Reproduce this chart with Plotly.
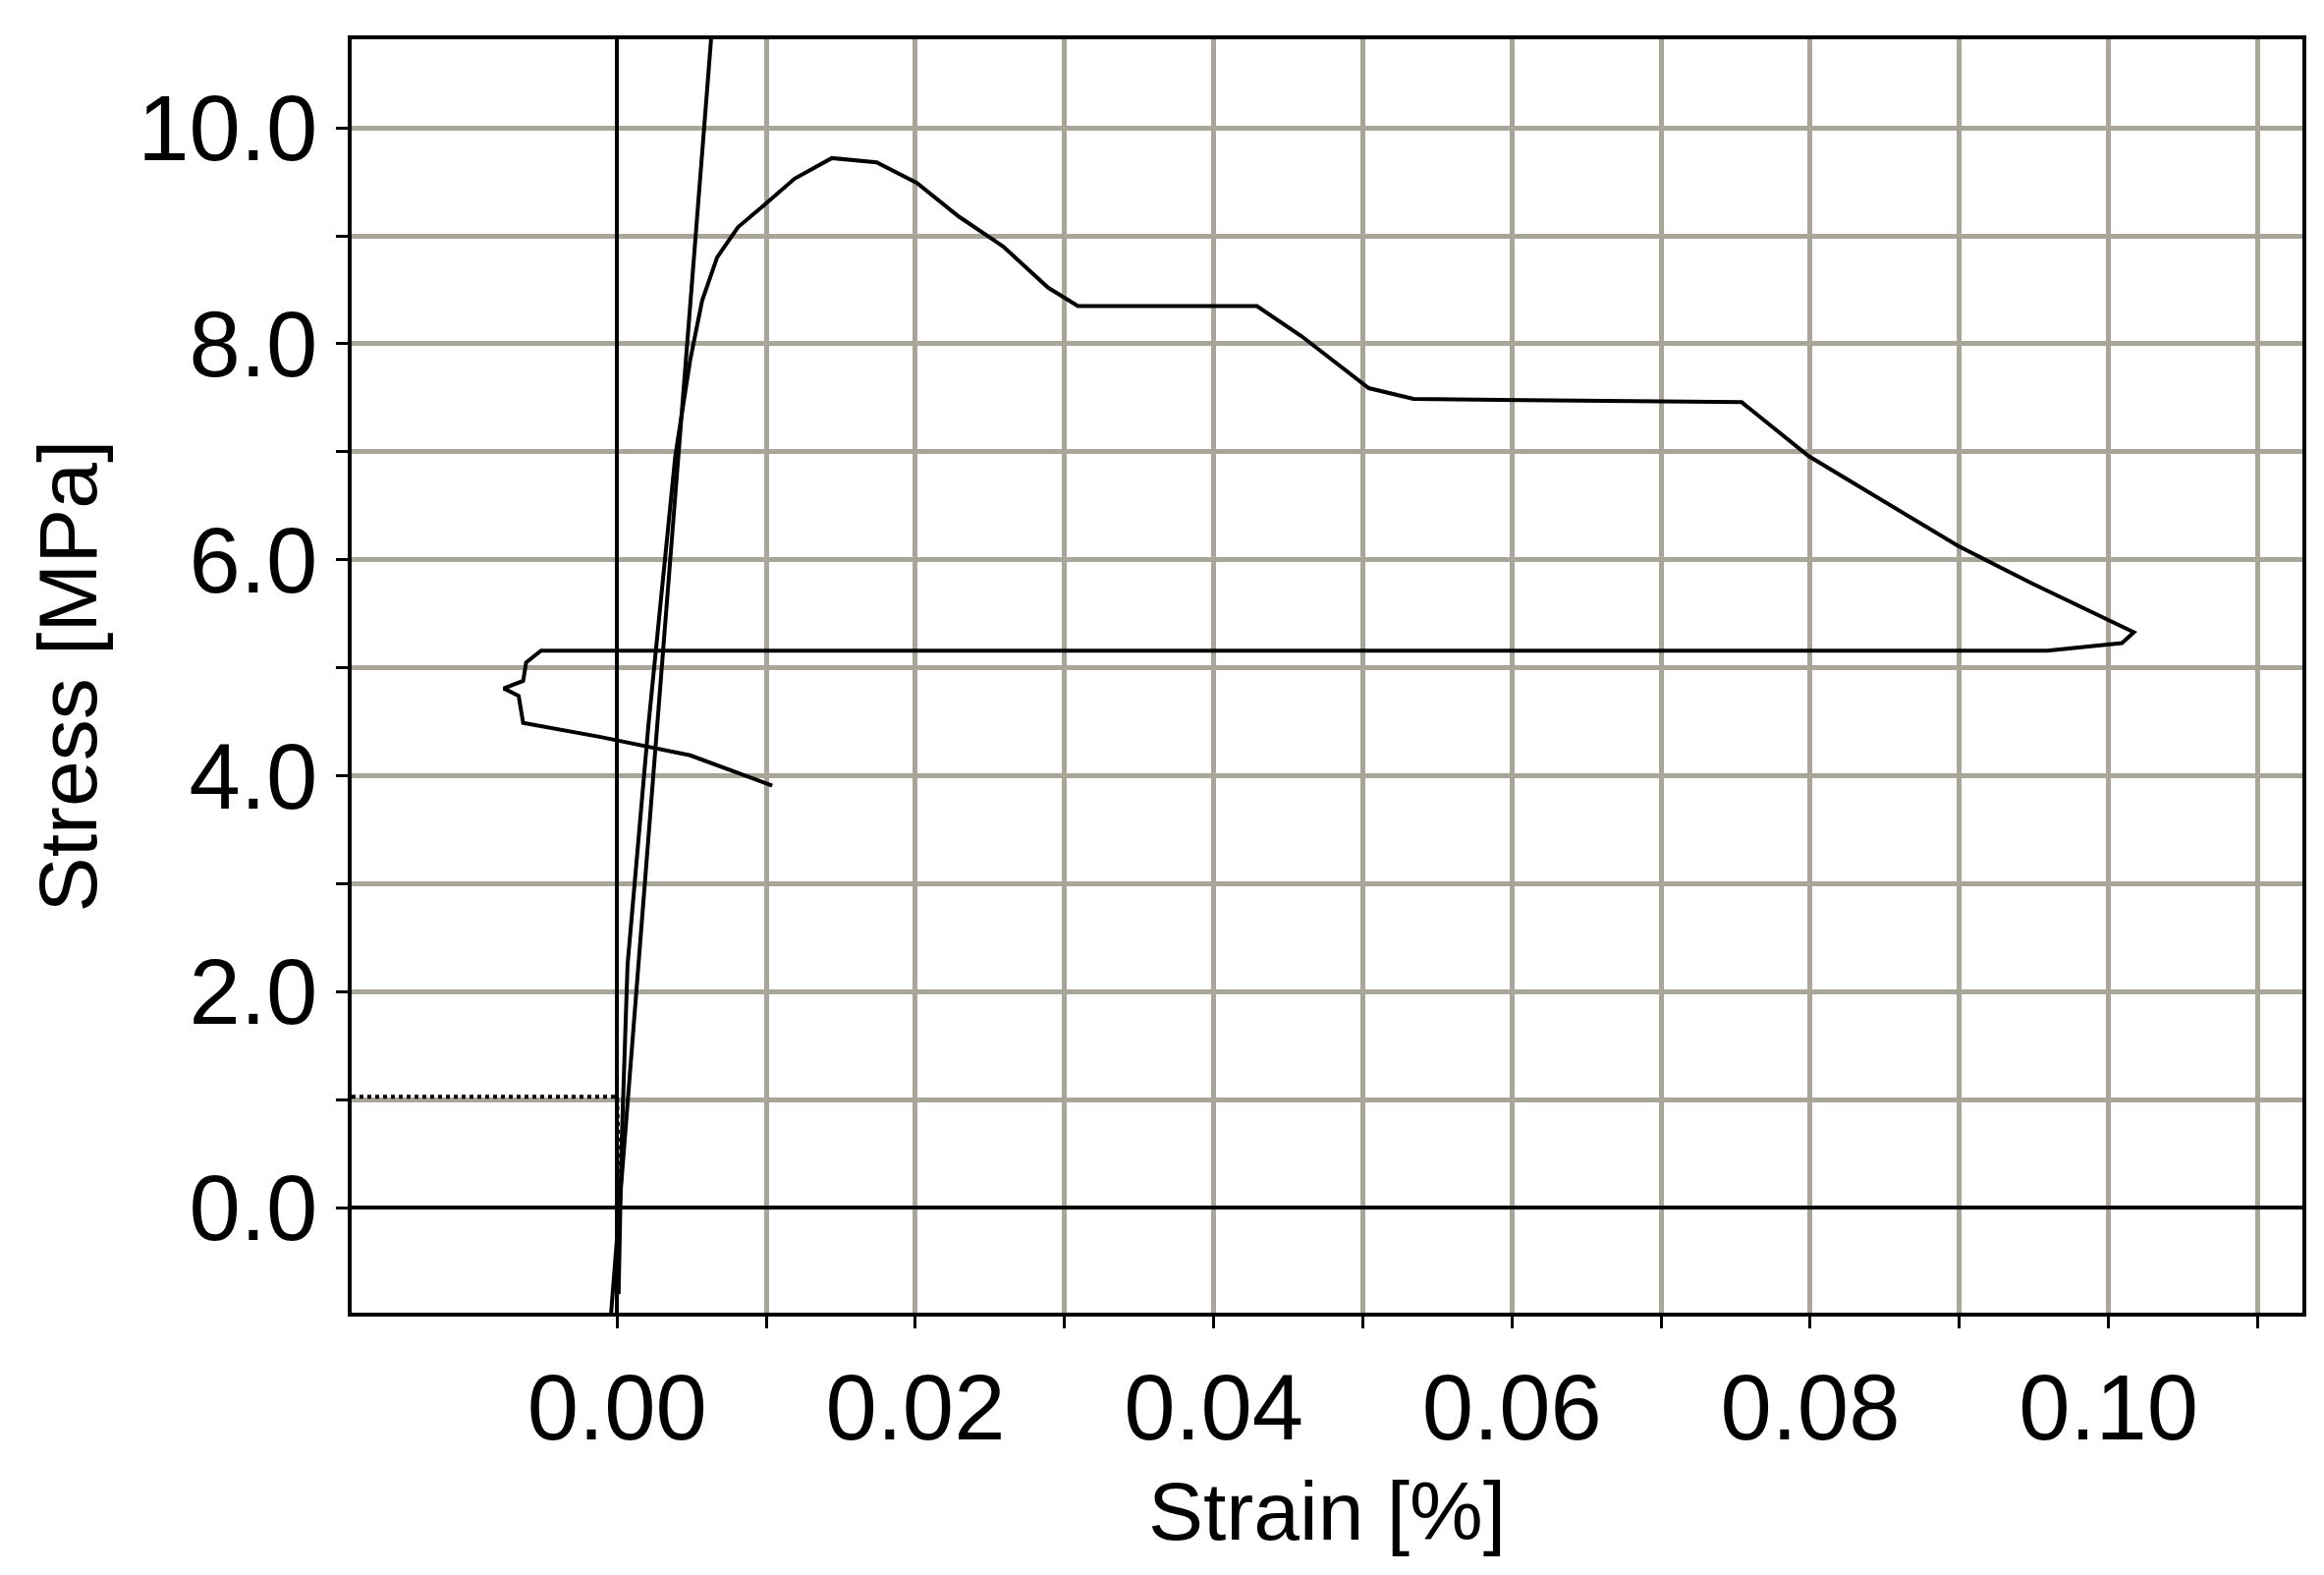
import plotly.graph_objects as go

# main stress-strain curve
strain = [0.0001, 0.0003, 0.0007, 0.0014, 0.0021, 0.0029, 0.0039, 0.0049, 0.0057, 0.0067,
          0.0081, 0.0099, 0.0119, 0.0144, 0.0174, 0.0201, 0.0229, 0.0259, 0.0289, 0.0309,
          0.0429, 0.0459, 0.0504, 0.0534, 0.0754, 0.0799, 0.0849, 0.0899, 0.0949, 0.1017,
          0.1009, 0.0959, -0.0051, -0.0061, -0.0063, -0.0076, -0.0066, -0.0063, -0.0011,
          0.0049, 0.0104]
stress = [-0.80, 0.58, 2.25, 3.36, 4.47, 5.58, 6.96, 7.85, 8.40, 8.80,
          9.08, 9.29, 9.53, 9.72, 9.68, 9.49, 9.18, 8.90, 8.52, 8.35,
          8.35, 8.07, 7.59, 7.49, 7.46, 6.96, 6.55, 6.13, 5.78, 5.33,
          5.23, 5.16, 5.16, 5.05, 4.88, 4.81, 4.74, 4.49, 4.36,
          4.19, 3.91]

# steep elastic line
steep_x = [-0.0004, 0.0063]
steep_y = [-0.97, 10.82]

# dotted baseline
dash_x = [-0.0178, 0.0, 0.0002]
dash_y = [1.03, 1.03, 0.0]

xticks = [round(i * 0.01, 2) for i in range(0, 12)]
xtext = [f"{v:.2f}" if i % 2 == 0 and v <= 0.1 else "" for i, v in enumerate(xticks)]
yticks = list(range(0, 11))
ytext = [f"{v:.1f}" if v % 2 == 0 else "" for v in yticks]

fig = go.Figure()
fig.add_trace(go.Scatter(x=strain, y=stress, mode="lines", line=dict(color="black", width=4)))
fig.add_trace(go.Scatter(x=steep_x, y=steep_y, mode="lines", line=dict(color="black", width=4)))
fig.add_trace(go.Scatter(x=dash_x, y=dash_y, mode="lines", line=dict(color="black", width=4, dash="dot")))

axis_common = dict(showgrid=True, gridcolor="#a9a598", gridwidth=5, showline=True, linecolor="black",
                   linewidth=4, mirror=True, ticks="outside", ticklen=12, tickwidth=3,
                   tickcolor="black", zeroline=True, zerolinecolor="black", zerolinewidth=4,
                   tickfont=dict(family="Liberation Sans", size=94, color="black"),
                   title_font=dict(family="Liberation Sans", size=84, color="black"))

fig.update_layout(
    width=2366, height=1603, showlegend=False,
    plot_bgcolor="white", paper_bgcolor="white",
    margin=dict(l=350, r=30, t=32, b=275),
    xaxis=dict(range=[-0.0178, 0.113], tickvals=xticks, ticktext=xtext,
               title=dict(text="Strain [%]", standoff=25), **axis_common),
    yaxis=dict(range=[-0.97, 10.82], tickvals=yticks, ticktext=ytext,
               title=dict(text="Stress [MPa]", standoff=15), **axis_common),
)

fig.write_html("out.html")
